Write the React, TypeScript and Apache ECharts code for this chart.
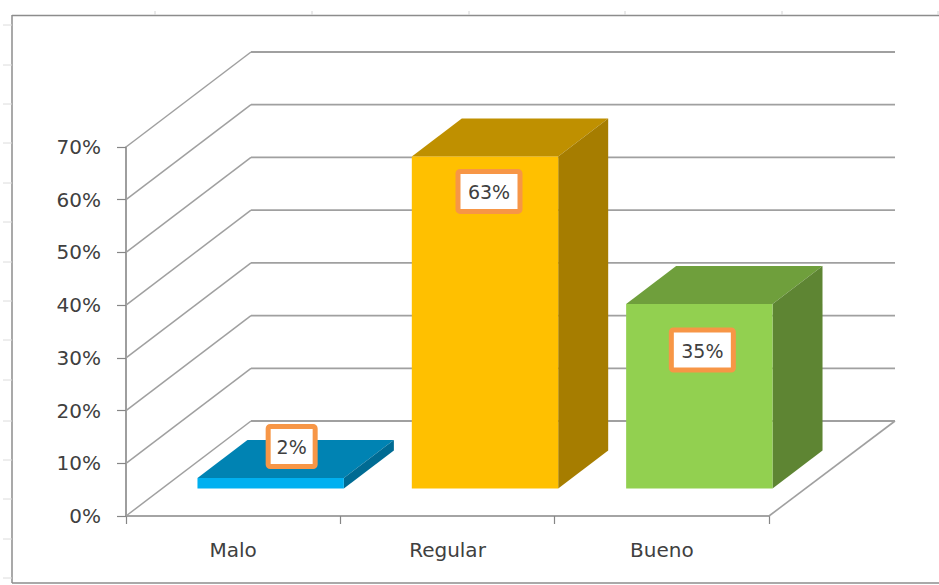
import React, { useEffect, useRef } from "react";
import * as echarts from "echarts";

// Survey results, in percent
const categories = ["Malo", "Regular", "Bueno"];
const shares = [2, 63, 35];
const valueTicks = [0, 10, 20, 30, 40, 50, 60, 70];

const frontColors = ["#00b0f0", "#ffc000", "#92d050"];
const topColors = ["#0083b3", "#bf9000", "#6f9f3c"];
const sideColors = ["#006b93", "#a67d00", "#5e8533"];

// Oblique projection of the chart box, in pixels
const DEPTH_X = 125;
const DEPTH_Y = 95;
const BAR_INSET_X = 37.5;
const BAR_INSET_Y = 27.5;
const BAR_DEPTH_X = 50;
const BAR_DEPTH_Y = 38;
const BAR_WIDTH_RATIO = 0.683;

const WALL_COLOR = "#a0a0a0";
const AXIS_COLOR = "#868686";
const TEXT_COLOR = "#404040";
const FONT = "'DejaVu Sans', sans-serif";

// Hand placement of the value boxes: offset from the bar's top-centre, box size
const labelShift = [
  { dx: 21, dy: -31.5 },
  { dx: 4, dy: 35 },
  { dx: 3, dy: 46 },
];
const labelBoxes = [
  { w: 47, h: 40 },
  { w: 62, h: 40 },
  { w: 62, h: 40 },
];

const seg = (x1: number, y1: number, x2: number, y2: number, stroke: string, lineWidth = 1.5) => ({
  type: "line",
  shape: { x1, y1, x2, y2 },
  style: { stroke, lineWidth },
});

function renderWall(params: any, api: any) {
  const { x, width, y, height } = params.coordSys;
  const yv = api.coord([0, api.value(1)])[1];
  const children: any[] = [
    seg(x, yv, x + DEPTH_X, yv - DEPTH_Y, WALL_COLOR),
    seg(x + DEPTH_X, yv - DEPTH_Y, x + width + DEPTH_X + 1, yv - DEPTH_Y, WALL_COLOR, 1.8),
  ];
  if (yv >= y + height - 0.5) {
    children.push(seg(x + width, yv, x + width + DEPTH_X + 1, yv - DEPTH_Y, WALL_COLOR, 1.6));
  }
  return { type: "group", children };
}

function renderBar(params: any, api: any) {
  const i = api.value(0);
  const [cx, y0] = api.coord([i, 0]);
  const [, y1] = api.coord([i, api.value(1)]);
  const w = api.size([1, 0])[0] * BAR_WIDTH_RATIO;
  const dx = BAR_DEPTH_X;
  const dy = BAR_DEPTH_Y;
  const left = cx - w / 2 + BAR_INSET_X;
  const right = cx + w / 2 + BAR_INSET_X;
  const top = y1 - BAR_INSET_Y;
  const bottom = y0 - BAR_INSET_Y;
  const shift = labelShift[i];
  const box = labelBoxes[i];
  const bx = (left + right) / 2 + shift.dx;
  const by = top + shift.dy;
  return {
    type: "group",
    children: [
      {
        type: "polygon",
        shape: { points: [[left, top], [right, top], [right + dx, top - dy], [left + dx, top - dy]] },
        style: { fill: topColors[i] },
      },
      {
        type: "polygon",
        shape: { points: [[right, top], [right + dx, top - dy], [right + dx, bottom - dy], [right, bottom]] },
        style: { fill: sideColors[i] },
      },
      {
        type: "rect",
        shape: { x: left, y: top, width: right - left, height: bottom - top },
        style: { fill: frontColors[i] },
      },
      {
        type: "rect",
        shape: { x: bx - box.w / 2, y: by - box.h / 2, width: box.w, height: box.h, r: 2 },
        style: { fill: "#ffffff", stroke: "#f79646", lineWidth: 5 },
      },
      {
        type: "text",
        style: {
          x: bx,
          y: by + 1,
          text: `${api.value(1)}%`,
          align: "center",
          verticalAlign: "middle",
          font: `19px ${FONT}`,
          fill: TEXT_COLOR,
        },
      },
    ],
  };
}

// Frame around the plot, with the faint sheet ruler marks along its top and left edges
const rulerTop = [155, 312, 469, 625, 782, 938];
const rulerLeft = [25, 65, 104, 143, 183, 222, 262, 301, 340, 380, 421, 460, 499, 539, 578];
const frame = [
  { type: "line", shape: { x1: 12, y1: 15.5, x2: 939, y2: 15.5 }, style: { stroke: "#8c8c8c", lineWidth: 1.5 } },
  { type: "line", shape: { x1: 12, y1: 15, x2: 12, y2: 583 }, style: { stroke: "#8c8c8c", lineWidth: 1.5 } },
  { type: "line", shape: { x1: 12, y1: 583, x2: 939, y2: 583 }, style: { stroke: "#8c8c8c", lineWidth: 1.5 } },
  ...rulerTop.map((x) => ({
    type: "line",
    shape: { x1: x, y1: 11, x2: x, y2: 15 },
    style: { stroke: "#d4d4d4", lineWidth: 1 },
  })),
  ...rulerLeft.map((y) => ({
    type: "line",
    shape: { x1: 3, y1: y, x2: 12, y2: y },
    style: { stroke: "#dcdcdc", lineWidth: 1 },
  })),
];

export default function App() {
  const ref = useRef<HTMLDivElement>(null);

  useEffect(() => {
    const chart = echarts.init(ref.current!, undefined, { renderer: "svg" });
    chart.setOption({
      animation: false,
      backgroundColor: "#ffffff",
      grid: { left: 126, right: 170, top: 147, bottom: 69, containLabel: false },
      graphic: { elements: frame },
      xAxis: {
        type: "category",
        data: categories,
        axisLine: { lineStyle: { color: AXIS_COLOR, width: 1.6 } },
        axisTick: { show: true, length: 8, lineStyle: { color: AXIS_COLOR, width: 1.2 } },
        axisLabel: { margin: 24, color: TEXT_COLOR, fontSize: 20, fontFamily: FONT },
        splitLine: { show: false },
      },
      yAxis: {
        type: "value",
        min: 0,
        max: 70,
        interval: 10,
        axisLine: { show: true, lineStyle: { color: AXIS_COLOR, width: 1.6 } },
        axisTick: { show: true, length: 9, lineStyle: { color: AXIS_COLOR, width: 1.2 } },
        axisLabel: { margin: 25, color: TEXT_COLOR, fontSize: 20, fontFamily: FONT, formatter: "{value}%" },
        splitLine: { show: false },
      },
      series: [
        {
          type: "custom",
          z: 1,
          silent: true,
          renderItem: renderWall,
          data: valueTicks.map((v) => [0, v]),
        },
        {
          type: "custom",
          z: 3,
          silent: true,
          renderItem: renderBar,
          data: shares.map((v, i) => [i, v]),
        },
      ],
    });
    return () => chart.dispose();
  }, []);

  return <div ref={ref} style={{ position: "absolute", left: 0, top: 0, width: 939, height: 585 }} />;
}
